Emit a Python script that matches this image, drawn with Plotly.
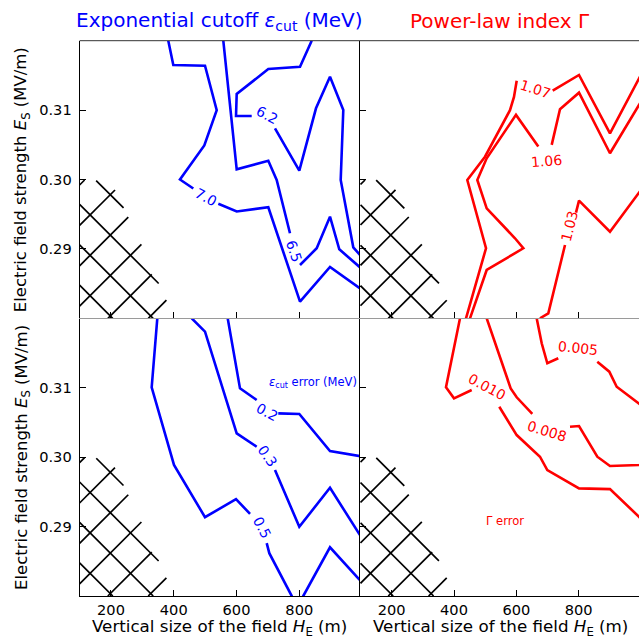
import math
import plotly.graph_objects as go

# ---------------- data (H_E in m, E_S in MV/m) ----------------
# hatched (excluded) parameter region
hatch_H = [100, 100, 149.1, 212.8, 243.1, 255.8, 297.2, 329.1, 349.8, 376.9, 394.4]
hatch_E = [0.2800, 0.29993, 0.29993, 0.29849, 0.29561, 0.29452, 0.29063, 0.28638, 0.28523, 0.28259, 0.2800]

# top-left: exponential cutoff contours (None = gap for inline label)
cut70_H = [382.6, 398.6, 499.6, 536.9, 497.4, 419.9, 462.3, None, 542.0, 600.6, 701.3, 802.3, 897.9, 993.5, 1000]
cut70_E = [0.3200, 0.3165, 0.3164, 0.3100, 0.3049, 0.3000, 0.2987, None, 0.2965, 0.2954, 0.2960, 0.2824, 0.2874, 0.2843, 0.2841]
cut65_H = [557.9, 600.6, 701.3, 728.0, 770.4, None, 802.3, 855.5, 897.9, 927.5, 993.5, 1000]
cut65_E = [0.3200, 0.30147, 0.30271, 0.29993, 0.29225, None, 0.28768, 0.29009, 0.29464, 0.28994, 0.28735, 0.2872]
cut62_H = [839.6, 802.3, 701.3, 600.6, 598.4, 648.4, None, 722.6, 800.1, 853.3, 897.9, 940.3, 932.0, 972.1, 995.6, 1000]
cut62_E = [0.3200, 0.31625, 0.31592, 0.31232, 0.30915, 0.30915, None, 0.30738, 0.30127, 0.31026, 0.31481, 0.31001, 0.29993, 0.29023, 0.28912, 0.2888]

# top-right: power-law index contours
g107_H = [438.5, 502.7, 442.7, 499.5, 579.7, 592.5, 601.2, None, 716.7, 801.1, 900.5, 993.6, 1000]
g107_E = [0.2800, 0.29009, 0.29993, 0.30329, 0.30998, 0.31190, 0.31424, None, 0.31280, 0.31506, 0.30666, 0.31458, 0.3151]
g106_H = [451.3, 504.9, 622.4, 595.7, 504.9, 474.8, 504.9, 598.9, 670.5, None, 713.5, 740.1, 801.1, 900.5, 993.6, 1000]
g106_E = [0.2800, 0.28696, 0.29009, 0.29153, 0.29585, 0.29993, 0.30305, 0.30931, 0.30474, None, 0.30499, 0.31013, 0.31251, 0.30378, 0.31074, 0.3112]
g103_H = [675.9, 702.6, 756.2, None, 791.4, 801.1, 900.5, 991.3, 1000]
g103_E = [0.2800, 0.28072, 0.29056, None, 0.29522, 0.29695, 0.29248, 0.29801, 0.2985]

# bottom-left: cutoff error contours
cerr05_H = [347.6, 329.7, 400.8, 499.6, 598.4, 643.1, None, 696.2, 704.5, 775.8, 793.7, 812.8, 897.9, 988.0, 1000]
cerr05_E = [0.3200, 0.31006, 0.29888, 0.29135, 0.29395, 0.29183, None, 0.28761, 0.28617, 0.28001, 0.27844, 0.2800, 0.28702, 0.28255, 0.2820]
cerr03_H = [457.2, 499.6, 600.6, 664.3, None, 722.6, 800.1, 897.9, 988.0, 1000]
cerr03_E = [0.3200, 0.31807, 0.30343, 0.30150, None, 0.29814, 0.28997, 0.29559, 0.28911, 0.2883]
cerr02_H = [571.9, 611.1, 664.3, None, 733.1, 800.1, 897.9, 993.5, 1000]
cerr02_E = [0.3200, 0.30991, 0.30823, None, 0.30631, 0.30621, 0.30088, 0.30020, 0.3001]

# bottom-right: index error contours
gerr010_H = [419.3, 374.3, 400.0, 456.8, None, 545.3, 601.2, 675.9, 699.4, 801.1, 900.5, 993.6, 1000]
gerr010_E = [0.3200, 0.31006, 0.30847, 0.30967, None, 0.30726, 0.30318, 0.30006, 0.29814, 0.29550, 0.29540, 0.29141, 0.2911]
gerr008_H = [504.9, 581.9, 601.2, 651.2, None, 772.2, 801.1, 859.8, 900.5, 993.6, 1000]
gerr008_E = [0.3200, 0.30991, 0.30862, 0.30622, None, 0.30438, 0.30448, 0.30006, 0.29872, 0.29886, 0.2989]
gerr005_H = [665.3, 681.4, 699.4, 734.6, None, 859.8, 898.3, 922.0, 993.6, 1000]
gerr005_E = [0.3200, 0.31640, 0.31352, 0.31424, None, 0.31375, 0.31231, 0.31014, 0.30775, 0.3075]

# inline contour labels
cut_lbl = ["7.0", "6.5", "6.2"]
cut_lbl_H = [502, 783, 698]
cut_lbl_E = [0.2975, 0.2897, 0.3093]
g_lbl = ["1.07", "1.06", "1.03"]
g_lbl_H = [661, 697, 769]
g_lbl_E = [0.3131, 0.3026, 0.2932]
cerr_lbl = ["0.2", "0.3", "0.5"]
cerr_lbl_H = [697, 698, 680]
cerr_lbl_E = [0.3065, 0.3001, 0.2899]
gerr_lbl = ["0.005", "0.008", "0.010"]
gerr_lbl_H = [798, 697, 507]
gerr_lbl_E = [0.3157, 0.3038, 0.3101]

x_ticks = [200, 400, 600, 800]
y_ticks = [0.29, 0.30, 0.31]
y_ticktext = ["0.29", "0.30", "0.31"]

# label rotations (style)
cut_ang = [29, 72, 27]
g_ang = [18, -5, -76]
cerr_ang = [28, 55, 63]
gerr_ang = [6, 17, 28]

# ---------------- layout geometry / style ----------------
W, H = 639, 640
BLUE = "#0000ff"
RED = "#ff0000"
FONT = "DejaVu Sans"
LW = 2.6

XL = [79.6 / W, 360 / W]
XR = [360 / W, 1.0]
YT = [1 - 318.3 / H, 1 - 40.7 / H]
YB = [1 - 596 / H, 1 - 318.3 / H]
XRANGE_L = [100, 993.5]
XRANGE_R = [98.4, 993.6]
YRANGE = [0.28, 0.32]

# hatch style: 45-degree crossing lines, period and phase in screen pixels
HATCH_P = 40.4
HATCH_PHASE_BACK = -123.3   # u - v
HATCH_PHASE_FWD = 184.7     # u + v


def hatch_lines(poly_H, poly_E, xr, yr, xdom, ydom):
    """Cross-hatch lines clipped to a polygon, returned in data coordinates."""
    kx = (xdom[1] - xdom[0]) * W / (xr[1] - xr[0])
    ky = (ydom[1] - ydom[0]) * H / (yr[1] - yr[0])
    pts = [((h - xr[0]) * kx, (yr[1] - e) * ky) for h, e in zip(poly_H, poly_E)]
    n = len(pts)
    oh, oe = [], []
    for s, c0 in ((-1.0, HATCH_PHASE_BACK), (1.0, HATCH_PHASE_FWD)):
        vals = [u + s * v for u, v in pts]
        k_lo = math.floor((min(vals) - c0) / HATCH_P)
        k_hi = math.ceil((max(vals) - c0) / HATCH_P)
        for k in range(k_lo, k_hi + 1):
            c = c0 + k * HATCH_P
            hits = []
            for i in range(n):
                (u1, v1), (u2, v2) = pts[i], pts[(i + 1) % n]
                f1, f2 = vals[i] - c, vals[(i + 1) % n] - c
                if (f1 < 0) != (f2 < 0):
                    t = f1 / (f1 - f2)
                    hits.append((u1 + t * (u2 - u1), v1 + t * (v2 - v1)))
            hits.sort()
            for j in range(0, len(hits) - 1, 2):
                for (u, v) in hits[j:j + 2]:
                    oh.append(xr[0] + u / kx)
                    oe.append(yr[1] - v / ky)
                oh.append(None)
                oe.append(None)
    return oh, oe


fig = go.Figure()

panels = {
    "tl": ("x3", "y3", XRANGE_L, XL, YT),
    "tr": ("x4", "y4", XRANGE_R, XR, YT),
    "bl": ("x", "y", XRANGE_L, XL, YB),
    "br": ("x2", "y2", XRANGE_R, XR, YB),
}

for key, (xa, ya, xr, xd, yd) in panels.items():
    hh, he = hatch_lines(hatch_H, hatch_E, xr, YRANGE, xd, yd)
    fig.add_trace(go.Scatter(x=hh, y=he, xaxis=xa, yaxis=ya, mode="lines",
                             line=dict(color="black", width=1.7), connectgaps=False,
                             hoverinfo="skip", showlegend=False))


def add_line(Hs, Es, key, color):
    xa, ya = panels[key][:2]
    fig.add_trace(go.Scatter(x=Hs, y=Es, xaxis=xa, yaxis=ya, mode="lines",
                             line=dict(color=color, width=LW), connectgaps=False,
                             hoverinfo="skip", showlegend=False))


for Hs, Es in [(cut70_H, cut70_E), (cut65_H, cut65_E), (cut62_H, cut62_E)]:
    add_line(Hs, Es, "tl", BLUE)
for Hs, Es in [(g107_H, g107_E), (g106_H, g106_E), (g103_H, g103_E)]:
    add_line(Hs, Es, "tr", RED)
for Hs, Es in [(cerr05_H, cerr05_E), (cerr03_H, cerr03_E), (cerr02_H, cerr02_E)]:
    add_line(Hs, Es, "bl", BLUE)
for Hs, Es in [(gerr010_H, gerr010_E), (gerr008_H, gerr008_E), (gerr005_H, gerr005_E)]:
    add_line(Hs, Es, "br", RED)

annotations = []


def add_labels(texts, Hs, Es, angs, key, color):
    xa, ya = panels[key][:2]
    for t, h, e, a in zip(texts, Hs, Es, angs):
        annotations.append(dict(text=t, x=h, y=e, xref=xa, yref=ya, showarrow=False,
                                textangle=a, xanchor="center", yanchor="middle", borderpad=0,
                                font=dict(family=FONT, size=14, color=color)))


add_labels(cut_lbl, cut_lbl_H, cut_lbl_E, cut_ang, "tl", BLUE)
add_labels(g_lbl, g_lbl_H, g_lbl_E, g_ang, "tr", RED)
add_labels(cerr_lbl, cerr_lbl_H, cerr_lbl_E, cerr_ang, "bl", BLUE)
add_labels(gerr_lbl, gerr_lbl_H, gerr_lbl_E, gerr_ang, "br", RED)

annotations.append(dict(text="<i>ε</i><sub>cut</sub> error (MeV)", x=843, y=0.3107,
                        xref="x", yref="y", showarrow=False,
                        font=dict(family=FONT, size=11.5, color=BLUE)))
annotations.append(dict(text="Γ error", x=564, y=0.2908, xref="x2", yref="y2",
                        showarrow=False, font=dict(family=FONT, size=11.5, color=RED)))

# titles and axis titles
annotations.append(dict(text="Exponential cutoff <i>ε</i><sub>cut</sub> (MeV)", x=0.344, y=0.967,
                        xref="paper", yref="paper", showarrow=False, xanchor="center",
                        yanchor="middle", font=dict(family=FONT, size=20, color=BLUE)))
annotations.append(dict(text="Power-law index Γ", x=0.7825, y=0.967,
                        xref="paper", yref="paper", showarrow=False, xanchor="center",
                        yanchor="middle", font=dict(family=FONT, size=20, color=RED)))
for xc in [0.344, 0.7825]:
    annotations.append(dict(text="Vertical size of the field <i>H</i><sub>E</sub> (m)", x=xc, y=0.0,
                            xref="paper", yref="paper", showarrow=False, xanchor="center",
                            yanchor="bottom", borderpad=0,
                            font=dict(family=FONT, size=16.7, color="black")))
for yc in [0.7195, 0.2856]:
    annotations.append(dict(text="Electric field strength <i>E</i><sub>S</sub> (MV/m)", x=0.034, y=yc,
                            xref="paper", yref="paper", showarrow=False, textangle=-90,
                            xanchor="center", yanchor="middle",
                            font=dict(family=FONT, size=16.5, color="black")))

tickfont = dict(family=FONT, size=14.6, color="black")
common = dict(showgrid=False, zeroline=False, ticks="inside", ticklen=6, tickwidth=1,
              tickcolor="black", tickfont=tickfont, fixedrange=True)

layout = dict(
    width=W, height=H, autosize=False,
    margin=dict(l=0, r=0, t=0, b=0),
    paper_bgcolor="white", plot_bgcolor="rgba(0,0,0,0)",
    showlegend=False,
    xaxis=dict(domain=XL, anchor="y", range=XRANGE_L, tickvals=x_ticks,
               showline=True, linecolor="black", linewidth=1, **common),
    yaxis=dict(domain=YB, anchor="x", range=YRANGE, tickvals=y_ticks, ticktext=y_ticktext,
               showline=True, linecolor="black", linewidth=1, ticklabelstandoff=4, **common),
    xaxis2=dict(domain=XR, anchor="y2", range=XRANGE_R, tickvals=x_ticks,
                showline=True, linecolor="black", linewidth=1, **common),
    yaxis2=dict(domain=YB, anchor="x2", range=YRANGE, tickvals=y_ticks,
                showticklabels=False, showline=True, linecolor="black", linewidth=1, **common),
    xaxis3=dict(domain=XL, anchor="y3", range=XRANGE_L, tickvals=x_ticks,
                showticklabels=False, showline=True, linecolor="#9a9a9a", linewidth=1, **common),
    yaxis3=dict(domain=YT, anchor="x3", range=YRANGE, tickvals=y_ticks, ticktext=y_ticktext,
                showline=True, linecolor="black", linewidth=1, ticklabelstandoff=4, **common),
    xaxis4=dict(domain=XR, anchor="y4", range=XRANGE_R, tickvals=x_ticks,
                showticklabels=False, showline=True, linecolor="#9a9a9a", linewidth=1, **common),
    yaxis4=dict(domain=YT, anchor="x4", range=YRANGE, tickvals=y_ticks,
                showticklabels=False, showline=True, linecolor="black", linewidth=1, **common),
    annotations=annotations,
    shapes=[
        dict(type="line", xref="x3 domain", yref="y3 domain", x0=0, x1=1, y0=1, y1=1,
             line=dict(color="#333333", width=1)),
        dict(type="line", xref="x4 domain", yref="y4 domain", x0=0, x1=1, y0=1, y1=1,
             line=dict(color="#333333", width=1)),
    ],
)
fig.update_layout(**layout)
fig.write_html("out.html")
